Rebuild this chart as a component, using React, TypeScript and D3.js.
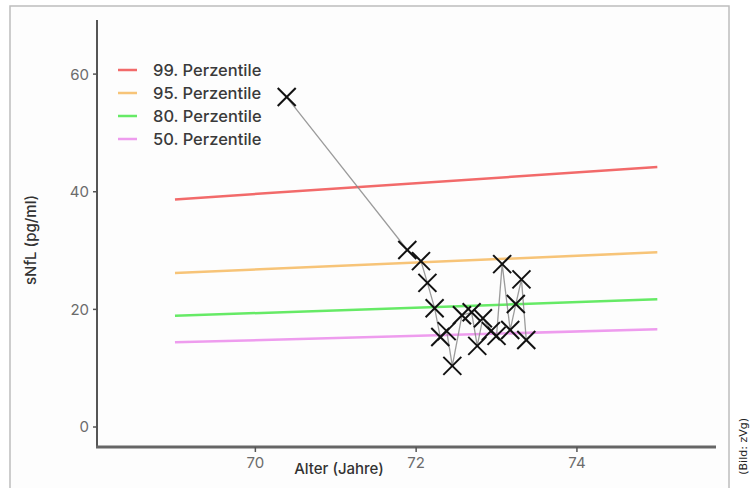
import React from "react";
import * as d3 from "d3";

const ages = [70.39, 71.89, 72.06, 72.14, 72.23, 72.3, 72.38, 72.45, 72.57, 72.69, 72.76, 72.83, 72.93, 73.0, 73.07, 73.17, 73.24, 73.31, 73.37];
const nfl = [56.1, 30.1, 28.2, 24.5, 20.2, 15.3, 16.3, 10.4, 19.0, 19.5, 13.8, 18.5, 16.3, 15.5, 27.7, 16.5, 20.9, 25.1, 14.8];

const percAges = [69, 75];
const p99 = [38.7, 44.2];
const p95 = [26.2, 29.7];
const p80 = [18.9, 21.7];
const p50 = [14.4, 16.6];

const percNames = ["99. Perzentile", "95. Perzentile", "80. Perzentile", "50. Perzentile"];
const percColors = ["#f26a6a", "#f7c478", "#66ea66", "#ee9cee"];
const percSeries = [p99, p95, p80, p50];

const xTicks = [70, 72, 74];
const yTicks = [0, 20, 40, 60];

export default function App() {
  const x = d3.scaleLinear().domain([68.03, 75.73]).range([97, 716]);
  const y = d3.scaleLinear().domain([-3.4, 69.2]).range([447, 20]);
  const line = d3
    .line<[number, number]>()
    .x((d) => x(d[0]))
    .y((d) => y(d[1]));
  const pts: [number, number][] = ages.map((a, i) => [a, nfl[i]]);
  const m = 9;
  const font = "Inter, 'Open Sans', sans-serif";
  return (
    <svg
      width={756}
      height={488}
      style={{ position: "absolute", left: 0, top: 0, background: "#fff" }}
    >
      <rect x={10} y={6} width={719} height={500} fill="#fdfdfd" stroke="#bdbdbd" strokeWidth={1.5} />
      {percSeries.map((s, i) => (
        <path
          key={i}
          d={line(percAges.map((a, j) => [a, s[j]]) as [number, number][]) || ""}
          stroke={percColors[i]}
          strokeWidth={2.5}
          fill="none"
        />
      ))}
      <path d={line(pts) || ""} stroke="#8a8a8a" strokeWidth={1.3} fill="none" opacity={0.85} />
      {pts.map((p, i) => {
        const cx = x(p[0]);
        const cy = y(p[1]);
        return (
          <g key={i} stroke="#111" strokeWidth={2}>
            <line x1={cx - m} y1={cy - m} x2={cx + m} y2={cy + m} />
            <line x1={cx - m} y1={cy + m} x2={cx + m} y2={cy - m} />
          </g>
        );
      })}
      {/* axes */}
      <line x1={97} y1={20} x2={97} y2={448} stroke="#555" strokeWidth={2} />
      <line x1={96} y1={447} x2={716} y2={447} stroke="#666" strokeWidth={3} />
      {yTicks.map((t) => (
        <g key={t}>
          <line x1={93} x2={97} y1={y(t)} y2={y(t)} stroke="#555" strokeWidth={1.5} />
          <text x={89} y={y(t)} dy="0.36em" textAnchor="end" fontSize={15} fill="#6b6b6b" fontFamily={font}>
            {t}
          </text>
        </g>
      ))}
      {xTicks.map((t) => (
        <g key={t}>
          <line x1={x(t)} x2={x(t)} y1={447} y2={452} stroke="#555" strokeWidth={1.5} />
          <text x={x(t)} y={468} textAnchor="middle" fontSize={15} fill="#6b6b6b" fontFamily={font}>
            {t}
          </text>
        </g>
      ))}
      <text x={339} y={474} textAnchor="middle" fontSize={15} fill="#333" fontFamily={font} fontWeight={500}>
        Alter (Jahre)
      </text>
      <text
        transform="translate(36,240) rotate(-90)"
        textAnchor="middle"
        fontSize={15}
        fill="#333"
        fontFamily={font}
        fontWeight={500}
      >
        sNfL (pg/ml)
      </text>
      {/* legend */}
      {percNames.map((n, i) => (
        <g key={n} transform={`translate(118,${70 + i * 23})`}>
          <line x1={0} x2={19} y1={0} y2={0} stroke={percColors[i]} strokeWidth={2.5} />
          <text x={35} y={0} dy="0.36em" fontSize={16.5} fill="#3a3a3a" fontFamily={font} fontWeight={500}>
            {n}
          </text>
        </g>
      ))}
      <text
        transform="translate(747,418) rotate(-90)"
        textAnchor="end"
        fontSize={11}
        fill="#222"
        fontFamily="'DejaVu Sans', sans-serif"
      >
        (Bild: zVg)
      </text>
    </svg>
  );
}
